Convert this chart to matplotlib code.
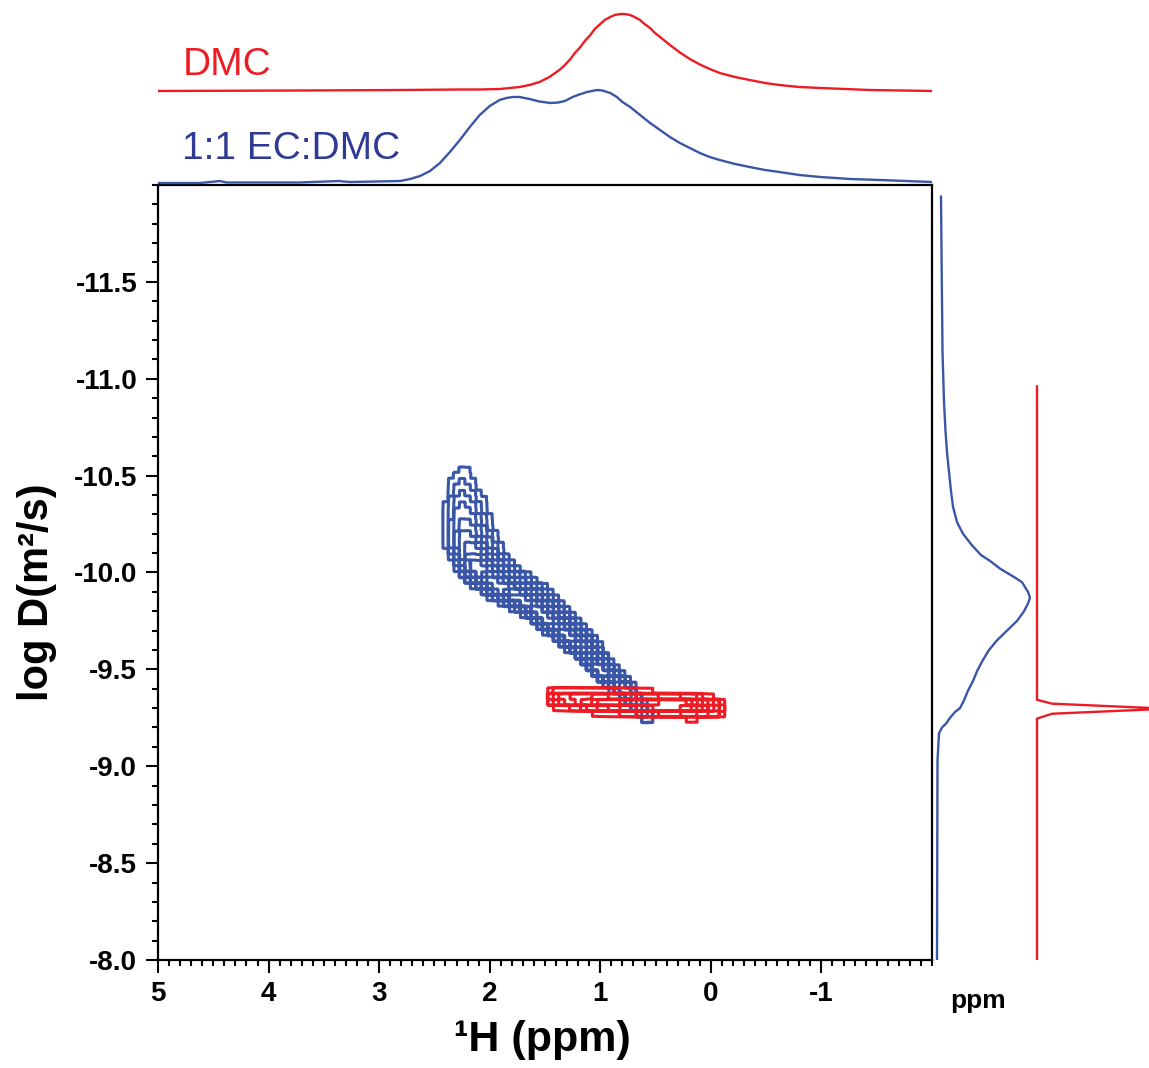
import numpy as np
import matplotlib
matplotlib.use("Agg")
import matplotlib.pyplot as plt
from matplotlib.ticker import MultipleLocator, FixedLocator, FormatStrFormatter

plt.rcParams['font.family'] = ['Liberation Sans', 'DejaVu Sans']
plt.rcParams['axes.unicode_minus'] = False

# ---------------- data ----------------
# top 1D spectra (ppm, relative intensity)
dmc_ppm = [5.00, 3.72, 2.81, 2.27, 2.09, 1.91, 1.82, 1.73, 1.64, 1.55, 1.46, 1.37,
           1.32, 1.27, 1.23, 1.18, 1.14, 1.09, 1.05, 1.00, 0.96, 0.91, 0.87, 0.82,
           0.78, 0.73, 0.69, 0.64, 0.60, 0.55, 0.51, 0.46, 0.37, 0.28, 0.19, 0.10,
           0.01, -0.08, -0.22, -0.35, -0.49, -0.62, -0.80, -0.99, -1.44, -2.00]
dmc_int = [0, 0.5, 1, 1.5, 1.5, 2, 3, 4, 6, 9, 14, 21,
           26, 32, 38, 44, 50, 56, 62, 67, 71, 74, 76, 77,
           77, 76, 74, 71, 67, 63, 58.5, 54, 46, 38.5, 32, 26.5,
           22, 18, 14, 11, 8, 6, 4, 3, 1, 0]

mix_ppm = [5.00, 4.62, 4.48, 4.44, 4.38, 3.72, 3.36, 3.32, 3.26, 2.81, 2.72, 2.63,
           2.54, 2.45, 2.36, 2.27, 2.18, 2.09, 2.00, 1.91, 1.85, 1.79, 1.73, 1.64,
           1.55, 1.45, 1.38, 1.32, 1.25, 1.19, 1.12, 1.03, 0.98, 0.91, 0.85, 0.80,
           0.73, 0.64, 0.55, 0.46, 0.37, 0.28, 0.19, 0.10, 0.01, -0.08, -0.22,
           -0.35, -0.49, -0.62, -0.80, -0.99, -1.26, -1.53, -2.00]
mix_int = [0, 0, 1.5, 2, 0.5, 0.5, 2, 1.5, 1, 2, 4, 7,
           12, 20, 31, 43, 56, 68, 77, 83, 85, 86, 86, 84,
           81.5, 80, 80.5, 82, 86, 88.5, 91, 93, 92.5, 90, 86, 81,
           76, 68, 60, 53, 46, 40, 35, 30, 26, 23, 19,
           16, 13, 11, 8, 6, 4, 3, 1]

# side projections (log D, relative intensity)
mix_logd = [-11.94, -11.66, -11.40, -11.14, -10.88, -10.73, -10.62, -10.52, -10.42,
            -10.34, -10.26, -10.20, -10.14, -10.09, -10.06, -10.02, -9.98, -9.95,
            -9.90, -9.87, -9.84, -9.80, -9.75, -9.70, -9.65, -9.60, -9.54, -9.49,
            -9.44, -9.39, -9.34, -9.30, -9.28, -9.25, -9.22, -9.20, -9.17, -9.03,
            -8.00]
mix_side = [4, 4.5, 5, 5.5, 7, 8.5, 10, 12, 14,
            16, 20, 26, 35, 44, 53, 63, 76, 85,
            91, 93, 91, 87, 80, 70, 60, 52, 45, 40,
            36, 31, 27, 23, 18, 13, 9, 5, 2, 0.5,
            0]

dmc_logd = [-10.96, -9.343, -9.323, -9.297, -9.271, -9.246, -8.00]
dmc_side = [0, 0, 15, 130, 15, 0, 0]

# 2D DOSY ridges: ridge path (ppm, log D), relative amplitude, widths
mix_ridge_ppm = [2.26, 2.25, 2.22, 2.14, 1.94, 1.67, 1.43, 1.19, 0.98, 0.77, 0.58]
mix_ridge_logd = [-10.48, -10.32, -10.16, -10.03, -9.92, -9.84, -9.73, -9.62, -9.48, -9.39, -9.26]
mix_ridge_amp = [0.25, 0.45, 0.65, 0.85, 0.95, 1.0, 1.0, 1.0, 0.95, 0.8, 0.45]
mix_ridge_wl = [12, 13, 13, 10, 7, 6, 6, 6, 5, 5, 5]
mix_ridge_wr = [14, 18, 20, 19, 16, 14, 12, 10, 8, 6, 5]

dmc_ridge_ppm = [1.40, 1.00, 0.55, 0.19, -0.04]
dmc_ridge_logd = [-9.355, -9.335, -9.32, -9.31, -9.30]
dmc_ridge_amp = [0.5, 0.9, 1.0, 1.0, 0.5]
dmc_ridge_wl = [7, 7, 7, 7, 7]
dmc_ridge_wr = [7, 7, 7, 7, 7]

mix_levels = [0.17, 0.25, 0.33, 0.41, 0.49, 0.57, 0.65, 0.73, 0.81, 0.88, 0.95]
dmc_levels = [0.15, 0.24, 0.33, 0.42, 0.51, 0.6, 0.69, 0.78, 0.87, 0.94]

# ---------------- styling ----------------
RED = '#ED1C24'
BLUE = '#3A56A6'
BLUE_TXT = '#2F3A97'
W, H = 1149, 1068

fig = plt.figure(figsize=(W / 100, H / 100), dpi=100)
L, R, T, B = 158, 932, 185, 960
ax = fig.add_axes([L / W, (H - B) / H, (R - L) / W, (B - T) / H])
axt = fig.add_axes([L / W, (H - T) / H, (R - L) / W, T / H])
axr = fig.add_axes([R / W, (H - B) / H, (W - R) / W, (B - T) / H])

XMIN, XMAX = 5.0, -2.0
YBOT, YTOP = -8.0, -12.0
sx_per_ppm = (R - L) / (XMIN - XMAX)
sy_per_logd = (B - T) / (YBOT - YTOP)


def ridge_field(ppm, logd, rp, rl, amp, wl, wr):
    SX = (XMIN - ppm) * sx_per_ppm
    SY = (logd - YTOP) * sy_per_logd
    px = (XMIN - np.asarray(rp)) * sx_per_ppm
    py = (np.asarray(rl) - YTOP) * sy_per_logd
    F = np.zeros_like(SX)
    for i in range(len(px) - 1):
        x0, y0, x1, y1 = px[i], py[i], px[i + 1], py[i + 1]
        vx, vy = x1 - x0, y1 - y0
        t = np.clip(((SX - x0) * vx + (SY - y0) * vy) / (vx * vx + vy * vy), 0, 1)
        dx = SX - (x0 + t * vx)
        dy = SY - (y0 + t * vy)
        d2 = dx * dx + dy * dy
        cross = vx * (SY - y0) - vy * (SX - x0)
        a = amp[i] * (1 - t) + amp[i + 1] * t
        sl = wl[i] * (1 - t) + wl[i + 1] * t
        sr = wr[i] * (1 - t) + wr[i + 1] * t
        sig = np.where(cross > 0, sl, sr)
        F = np.maximum(F, a * np.exp(-d2 / (2 * sig * sig)))
    return F


# coarse grid (gives the blocky contour look), upsampled by repetition
dxc, dyc, k = 0.05, 0.03, 6
ppm_c = np.arange(-0.45, 2.75, dxc)
logd_c = np.arange(-10.8, -9.0, dyc)
PC, LC = np.meshgrid(ppm_c, logd_c)
ppm_f = (ppm_c[:, None] + ((np.arange(k) + 0.5) / k - 0.5) * dxc).ravel()
logd_f = (logd_c[:, None] + ((np.arange(k) + 0.5) / k - 0.5) * dyc).ravel()

for rp, rl, amp, wl, wr, lev, col, z in [
        (mix_ridge_ppm, mix_ridge_logd, mix_ridge_amp, mix_ridge_wl, mix_ridge_wr, mix_levels, BLUE, 2),
        (dmc_ridge_ppm, dmc_ridge_logd, dmc_ridge_amp, dmc_ridge_wl, dmc_ridge_wr, dmc_levels, RED, 3)]:
    Fc = ridge_field(PC, LC, rp, rl, amp, wl, wr)
    F = np.repeat(np.repeat(Fc, k, axis=0), k, axis=1)
    ax.contour(ppm_f, logd_f, F, levels=lev, colors=col, linewidths=2.2, zorder=z)

ax.set_xlim(XMIN, XMAX)
ax.set_ylim(YBOT, YTOP)
ax.xaxis.set_major_locator(FixedLocator([5, 4, 3, 2, 1, 0, -1]))
ax.xaxis.set_minor_locator(MultipleLocator(0.1))
ax.yaxis.set_major_locator(FixedLocator([-8.0, -8.5, -9.0, -9.5, -10.0, -10.5, -11.0, -11.5]))
ax.yaxis.set_minor_locator(MultipleLocator(0.1))
ax.xaxis.set_major_formatter(FormatStrFormatter('%d'))
ax.yaxis.set_major_formatter(FormatStrFormatter('%.1f'))
ax.tick_params(which='both', direction='out', top=False, right=False, width=1.5)
ax.tick_params(which='major', length=9, labelsize=20, pad=6)
ax.tick_params(which='minor', length=4)
for lab in ax.get_xticklabels() + ax.get_yticklabels():
    lab.set_fontweight('bold')
for sp in ax.spines.values():
    sp.set_linewidth(1.6)

# top spectra
RED_OFF, BLUE_OFF = 94, 2
axt.plot(dmc_ppm, np.asarray(dmc_int) + RED_OFF, color=RED, lw=1.7)
axt.plot(mix_ppm, np.asarray(mix_int) + BLUE_OFF, color=BLUE, lw=1.7)
axt.set_xlim(XMIN, XMAX)
axt.set_ylim(0, T)
axt.axis('off')
axt.text(4.78, 110, 'DMC', color=RED, fontsize=28, ha='left', va='baseline')
axt.text(4.78, 26, '1:1 EC:DMC', color=BLUE_TXT, fontsize=28, ha='left', va='baseline')

# side projections
SIDE_BLUE_OFF, SIDE_RED_OFF = 5, 105
axr.plot(np.asarray(mix_side) + SIDE_BLUE_OFF, mix_logd, color=BLUE, lw=1.7)
axr.plot(np.asarray(dmc_side) + SIDE_RED_OFF, dmc_logd, color=RED, lw=1.7)
axr.set_xlim(0, W - R)
axr.set_ylim(YBOT, YTOP)
axr.axis('off')

# labels
fig.text(542 / W, 1 - 1040 / H, '¹H (ppm)', fontsize=31, fontweight='bold',
         ha='center', va='center')
fig.text(37 / W, 1 - 592 / H, 'log D(m²/s)', fontsize=30, fontweight='bold',
         rotation=90, ha='center', va='center')
fig.text(978 / W, 1 - 1001 / H, 'ppm', fontsize=19, fontweight='bold',
         ha='center', va='center')

fig.savefig('out.png', dpi=100)
